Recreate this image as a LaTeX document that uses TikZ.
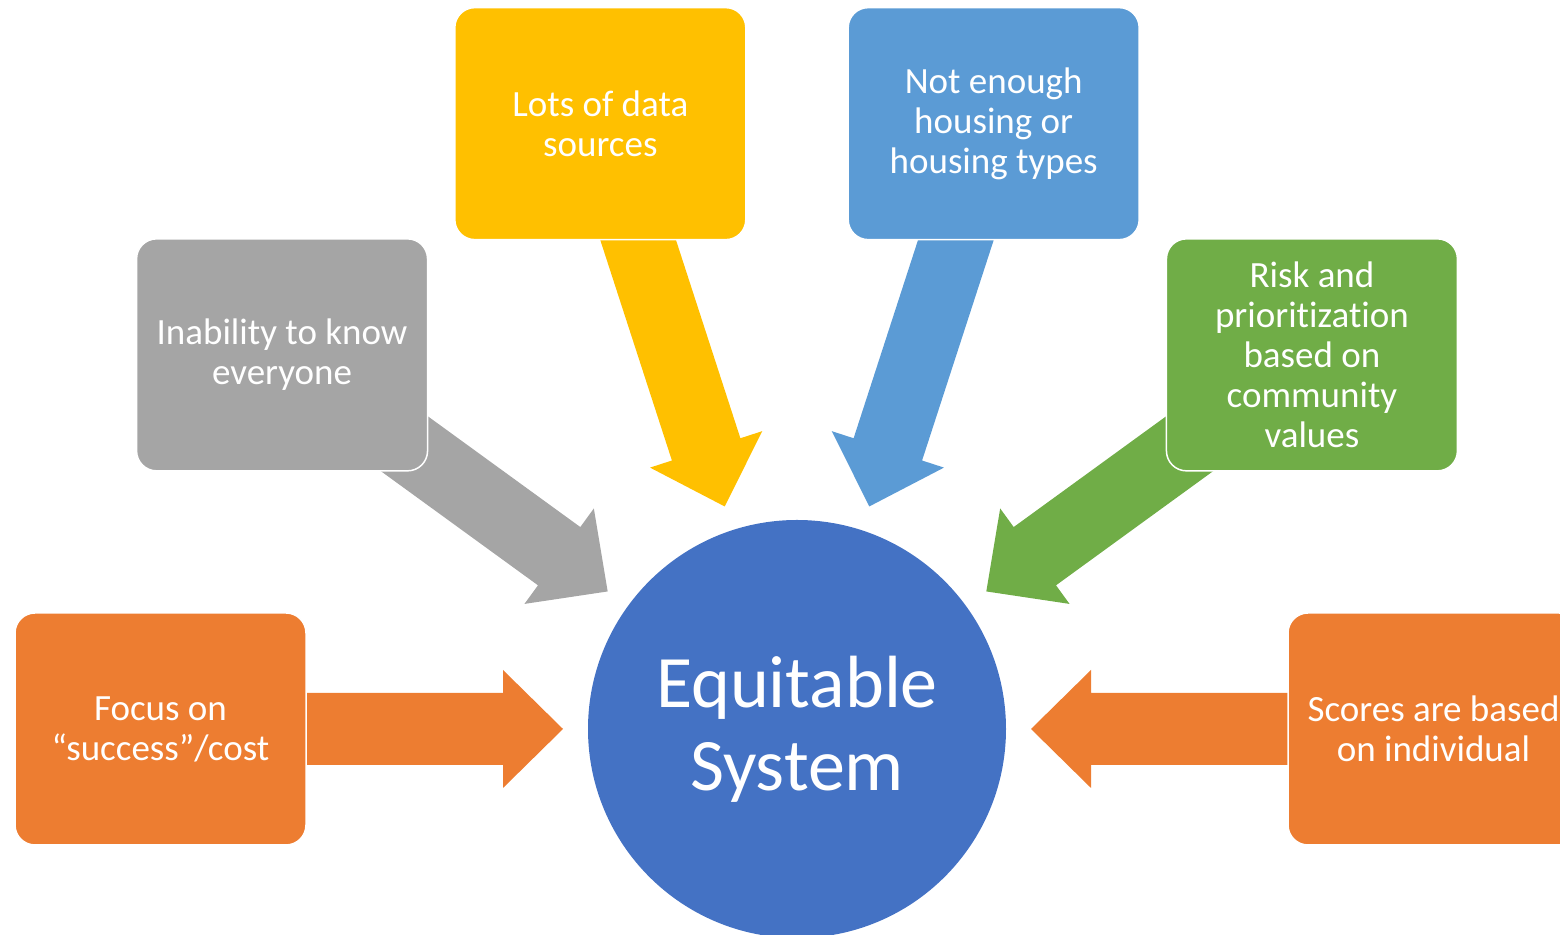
\documentclass[tikz,border=0pt]{standalone}
\usepackage{fontspec}
\setmainfont[Ligatures=NoCommon]{Carlito}
\usetikzlibrary{calc,backgrounds}
\definecolor{myorange}{HTML}{ED7D31}
\definecolor{mygray}{HTML}{A5A5A5}
\definecolor{myyellow}{HTML}{FFC000}
\definecolor{mylightblue}{HTML}{5B9BD5}
\definecolor{mygreen}{HTML}{70AD47}
\definecolor{myblue}{HTML}{4472C4}
\tikzset{
	mybox/.style={draw=white,line width=0.75pt,rounded corners=10pt,minimum width=145.5pt,minimum height=116pt,inner sep=0pt,text=white,align=center,font=\fontsize{18.5}{20}\selectfont},
	mycircle/.style={circle,fill=myblue,minimum size=209pt,inner sep=0pt,text=white,align=center,font=\fontsize{37}{41.5}\selectfont}
}
% block arrow from the centre of box #1 to the point #2
\newcommand{\blockarrow}[3]{
	\coordinate (#2base) at ($(#2)!30pt!(#1.center)$);
	\fill[#3] ($(#1.center)!18pt!90:(#2)$) -- ($(#2base)!18pt!90:(#2)$)
		-- ($(#2base)!29.5pt!90:(#2)$) -- (#2)
		-- ($(#2base)!29.5pt!-90:(#2)$) -- ($(#2base)!18pt!-90:(#2)$)
		-- ($(#1.center)!18pt!-90:(#2)$) -- cycle;
}

\begin{document}
\begin{tikzpicture}[x=0.5pt,y=0.5pt]
		\useasboundingbox (0,0) rectangle (1560,935);
		\node[mycircle](sys) at (797,206){Equitable\\System};
		\node[mybox,fill=myorange](focus) at ($(sys.center)+(180:636.5)$){Focus on\\“success”/cost};
		\node[mybox,fill=mygray](know) at ($(sys.center)+(144:636.5)$){Inability to know\\everyone};
		\node[mybox,fill=myyellow](data) at ($(sys.center)+(108:636.5)$){Lots of data\\sources};
		\node[mybox,fill=mylightblue](housing) at ($(sys.center)+(72:636.5)$){Not enough\\housing or\\housing types};
		\node[mybox,fill=mygreen](risk) at ($(sys.center)+(36:636.5)$){Risk and\\prioritization\\based on\\community\\values};
		\node[mybox,fill=myorange](scores) at ($(sys.center)+(0:636.5)$){Scores are based\\on individual};
		\coordinate (focustip) at ($(sys.center)!117pt!(focus.center)$);
		\coordinate (knowtip) at ($(sys.center)!117pt!(know.center)$);
		\coordinate (datatip) at ($(sys.center)!117pt!(data.center)$);
		\coordinate (housingtip) at ($(sys.center)!117pt!(housing.center)$);
		\coordinate (risktip) at ($(sys.center)!117pt!(risk.center)$);
		\coordinate (scorestip) at ($(sys.center)!117pt!(scores.center)$);
		\begin{pgfonlayer}{background}
			\blockarrow{focus}{focustip}{myorange}
			\blockarrow{know}{knowtip}{mygray}
			\blockarrow{data}{datatip}{myyellow}
			\blockarrow{housing}{housingtip}{mylightblue}
			\blockarrow{risk}{risktip}{mygreen}
			\blockarrow{scores}{scorestip}{myorange}
		\end{pgfonlayer}
	\end{tikzpicture}
\end{document}
